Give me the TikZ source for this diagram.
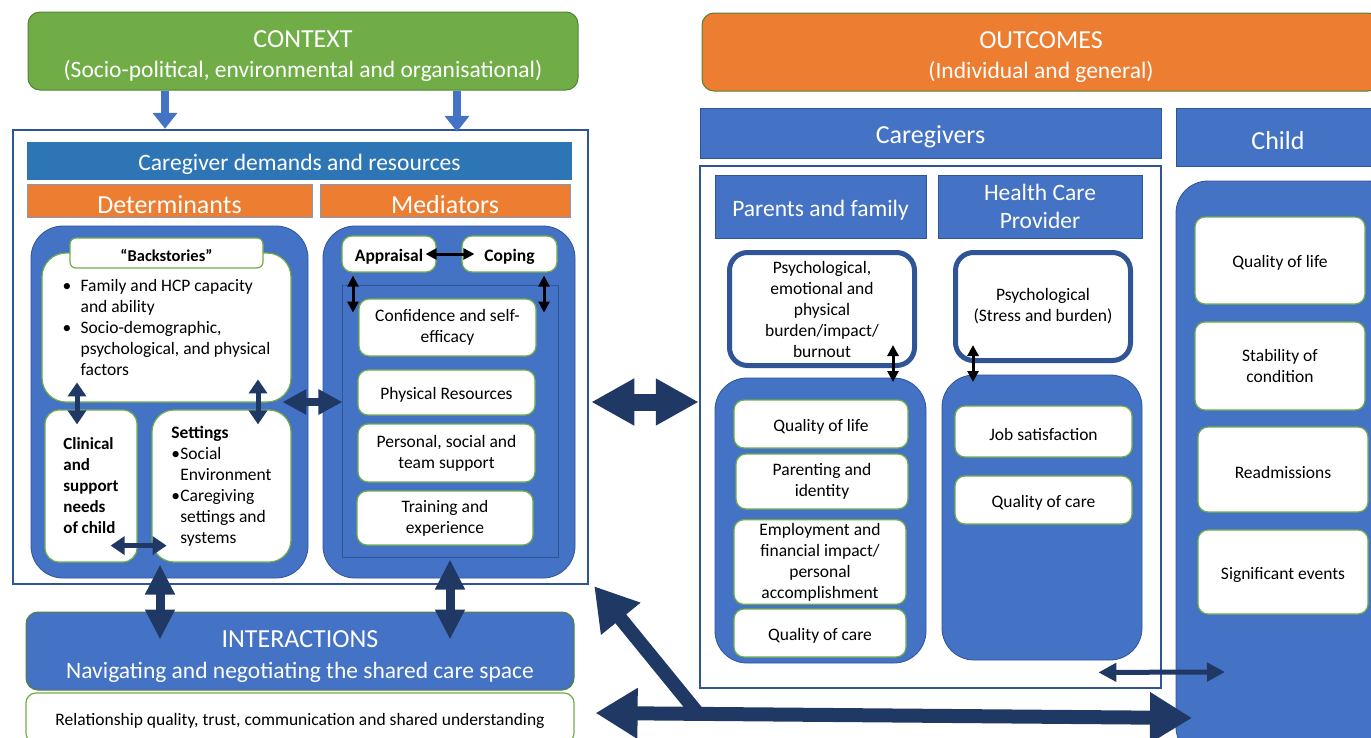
\documentclass[tikz,border=0pt]{standalone}
\usepackage{fontspec}
\setmainfont{Carlito}
\usetikzlibrary{arrows.meta,calc}
\definecolor{myblue}{HTML}{4472C4}
\definecolor{barblue}{HTML}{2E75B6}
\definecolor{edgeblue}{HTML}{2F5597}
\definecolor{arrowdark}{HTML}{203864}
\definecolor{itemgreen}{HTML}{70AD47}
\definecolor{ctxgreen}{HTML}{70AD47}
\definecolor{ctxedge}{HTML}{548235}
\definecolor{myorange}{HTML}{ED7D31}
\newcommand{\fs}[1]{\fontsize{#1}{21}\selectfont}
\newcommand{\bul}{\makebox[18pt][l]{\textbullet}}
\newcommand{\ind}{\hspace*{18pt}}
\newcommand{\caps}[1]{{\fontsize{26}{30}\selectfont\rule{0pt}{27.5pt}#1}}
\tikzset{
title/.style={text=white, align=center, font=\fontsize{23.5}{30}\selectfont,
  execute at begin node={\rule{0pt}{1em}}},% big headings, strut pushes text to the middle
bigbox/.style={title, rounded corners=12pt, draw=ctxedge, line width=1pt},
bar/.style={title, fill=myblue, draw=edgeblue, line width=0.8pt},
headbar/.style={title, fill=myorange, draw=edgeblue!60, line width=0.8pt, font=\fontsize{26}{26}\selectfont},
frame/.style={draw=edgeblue, line width=2.5pt, fill=white},
panel/.style={fill=myblue, draw=edgeblue, line width=0.8pt, rounded corners=32pt},
itembox/.style={fill=white, draw=itemgreen, line width=1.2pt, rounded corners=10pt, align=center, font=\fs{17.5},
  execute at begin node={\rule{0pt}{1em}}},
thickbox/.style={itembox, draw=edgeblue, line width=5pt, rounded corners=18pt},
% connectors
downarrow/.style={draw=myblue, line width=8pt, -{Triangle[length=16pt,width=24pt]}},
dblsmall/.style={draw=arrowdark, line width=5pt, {Triangle[length=14pt,width=18pt]}-{Triangle[length=14pt,width=18pt]}},
dblmid/.style={draw=arrowdark, line width=8pt, {Triangle[length=24pt,width=24pt]}-{Triangle[length=24pt,width=24pt]}},
dblbig/.style={draw=arrowdark, line width=9pt, {Triangle[length=30pt,width=28pt]}-{Triangle[length=30pt,width=28pt]}},
dblhuge/.style={draw=arrowdark, line width=17pt, {Triangle[length=43pt,width=44pt]}-{Triangle[length=43pt,width=44pt]}},
dblblack/.style={draw=black, line width=3pt, {Triangle[length=11pt,width=11pt]}-{Triangle[length=11pt,width=11pt]}},
}
\begin{document}
\begin{tikzpicture}[x=1pt,y=-1pt]
\useasboundingbox (0,0) rectangle (1371,737);

% left half: context and demands
\node[bigbox, fill=ctxgreen, minimum width=550pt, minimum height=78pt] (ctx) at (303,51) {\caps{CONTEXT}\\(Socio-political, environmental and organisational)};
\node[frame, minimum width=575pt, minimum height=454pt] (lframe) at (300.5,357) {};
\node[title, fill=barblue, minimum width=545pt, minimum height=38pt] (demres) at (299.5,161) {Caregiver demands and resources};
\node[headbar, minimum width=285pt, minimum height=28pt] (dets) at (169.5,201) {Determinants};
\node[headbar, minimum width=250pt, minimum height=28pt] (meds) at (445,201) {Mediators};

\node[panel, minimum width=277pt, minimum height=352pt] (detpanel) at (169.5,402) {};
\node[itembox, rounded corners=24pt, minimum width=249pt, minimum height=149pt, align=left] (back) at (166.5,327.5)
  {\bul Family and HCP capacity\\\ind and ability\\\bul Socio-demographic,\\\ind psychological, and physical\\\ind factors};
\node[itembox, rounded corners=6pt, minimum width=193pt, minimum height=30pt, font=\bfseries\fs{16.5}] (backhd) at (166.5,253) {“Backstories”};
\node[itembox, rounded corners=14pt, minimum width=92pt, minimum height=152pt, align=left, font=\bfseries\fs{17}] (clin) at (91,486) {Clinical\\and\\support\\needs\\of child};
\node[itembox, rounded corners=22pt, minimum width=139pt, minimum height=152pt, align=left] (sett) at (221.5,486)
  {\textbf{Settings}\\\makebox[9pt][l]{\textbullet}Social\\\hspace*{9pt}Environment\\\makebox[9pt][l]{\textbullet}Caregiving\\\hspace*{9pt}settings and\\\hspace*{9pt}systems};

\node[panel, minimum width=252pt, minimum height=352pt] (medpanel) at (449,402) {};
\node[fill=myblue, draw=edgeblue, line width=1pt, minimum width=216pt, minimum height=272pt] (medinner) at (450,421) {};
\node[itembox, minimum width=94pt, minimum height=36pt, font=\bfseries\fs{17.5}] (appr) at (389,254) {Appraisal};
\node[itembox, minimum width=95pt, minimum height=36pt, font=\bfseries\fs{17.5}] (cope) at (509.5,254) {Coping};
\node[itembox, minimum width=177pt, minimum height=57pt] (conf) at (447.5,327.5) {Confidence and self-\\efficacy};
\node[itembox, minimum width=177pt, minimum height=45pt] (phys) at (446.5,392.5) {Physical Resources};
\node[itembox, minimum width=177pt, minimum height=58pt] (pers) at (446.5,453) {Personal, social and\\team support};
\node[itembox, minimum width=176pt, minimum height=54pt] (train) at (445,518) {Training and\\experience};

\node[bigbox, fill=myblue, minimum width=548pt, minimum height=78pt, font=\fontsize{23.5}{31}\selectfont] (inter) at (300,651) {\caps{INTERACTIONS}\\Navigating and negotiating the shared care space};
\node[itembox, minimum width=548pt, minimum height=50pt] (rel) at (300,718) {Relationship quality, trust, communication and shared understanding};

% right half: outcomes
\node[bigbox, fill=myorange, minimum width=678pt, minimum height=78pt] (outc) at (1041,52) {\caps{OUTCOMES}\\(Individual and general)};
\node[bar, minimum width=461pt, minimum height=50pt, font=\fontsize{26}{30}\selectfont] (cgbar) at (930.5,133) {Caregivers};
\node[bar, minimum width=204pt, minimum height=58pt, font=\fontsize{26}{30}\selectfont] (childbar) at (1278,137) {Child};
\node[frame, minimum width=461pt, minimum height=522pt] (cgframe) at (930.5,427) {};
\node[bar, minimum width=211pt, minimum height=63pt, font=\fontsize{23.5}{28}\selectfont] (parbar) at (820.5,206.5) {Parents and family};
\node[bar, minimum width=204pt, minimum height=63pt, font=\fontsize{23.5}{28}\selectfont] (hcpbar) at (1040,206.5) {Health Care\\Provider};
\node[thickbox, minimum width=185pt, minimum height=113pt] (psy1) at (822,309) {Psychological,\\emotional and\\physical\\burden/impact/\\burnout};
\node[thickbox, minimum width=175pt, minimum height=108pt] (psy2) at (1043,306.5) {Psychological\\(Stress and burden)};

\node[panel, minimum width=211pt, minimum height=285pt] (parpanel) at (820.5,520.5) {};
\node[itembox, minimum width=174pt, minimum height=48pt] (pqol) at (821,424) {Quality of life};
\node[itembox, minimum width=172pt, minimum height=55pt] (ppar) at (822,481.5) {Parenting and\\identity};
\node[itembox, minimum width=172pt, minimum height=82pt] (pemp) at (820,562) {Employment and\\financial impact/\\personal\\accomplishment};
\node[itembox, minimum width=172pt, minimum height=48pt] (pqoc) at (820,633) {Quality of care};

\node[panel, minimum width=200pt, minimum height=285pt] (hcppanel) at (1042,517.5) {};
\node[itembox, minimum width=177pt, minimum height=51pt] (hjob) at (1043.5,431.5) {Job satisfaction};
\node[itembox, minimum width=177pt, minimum height=48pt] (hqoc) at (1043.5,500) {Quality of care};

\node[panel, minimum width=224pt, minimum height=578pt] (childpanel) at (1288,470) {};
\node[itembox, minimum width=170pt, minimum height=87pt] (cqol) at (1280,260.5) {Quality of life};
\node[itembox, minimum width=170pt, minimum height=88pt] (cstab) at (1280,366) {Stability of\\condition};
\node[itembox, minimum width=170pt, minimum height=85pt] (cread) at (1283,469.5) {Readmissions};
\node[itembox, minimum width=170pt, minimum height=84pt] (csig) at (1283,572) {Significant events};

% connectors
\draw[downarrow] (ctx.south -| 165,0) -- (lframe.north -| 165,0);
\draw[downarrow] (ctx.south -| 457,0) -- ([yshift=-3pt]lframe.north -| 457,0);

\draw[dblsmall] ([xshift=-14pt,yshift=27pt]clin.north) -- ([xshift=-14pt,yshift=-15pt]clin.north);
\draw[dblsmall] ([xshift=36.5pt,yshift=30pt]sett.north) -- ([xshift=36.5pt,yshift=-15pt]sett.north);
\draw[dblsmall] ([xshift=-27pt,yshift=17pt]clin.south east) -- ([xshift=29pt,yshift=17pt]clin.south east);
\draw[dblmid] ([xshift=-26pt]detpanel.east) -- ([xshift=34pt]detpanel.east);

\draw[dblblack] ([xshift=-11pt]appr.east) -- ([xshift=13pt]cope.west);
\draw[dblblack] ([xshift=-36pt,yshift=-3pt]appr.south) -- ([xshift=-36pt,yshift=-40pt]appr.south);
\draw[dblblack] ([xshift=34.5pt,yshift=-3pt]cope.south) -- ([xshift=34.5pt,yshift=-40pt]cope.south);

\draw[dblbig] ([xshift=-140pt,yshift=47pt]inter.north) -- ([xshift=-140pt,yshift=-28pt]inter.north);
\draw[dblbig] ([xshift=150pt,yshift=52pt]inter.north) -- ([xshift=150pt,yshift=-28pt]inter.north);

\draw[dblhuge] ([xshift=2pt]lframe.east |- medpanel.east) -- (cgframe.west |- medpanel.east);

\draw[dblblack] ([xshift=-24pt,yshift=23pt]psy1.south east) -- ([xshift=-24pt,yshift=-14pt]psy1.south east);
\draw[dblblack] ([xshift=20pt,yshift=18pt]psy2.south west) -- ([xshift=20pt,yshift=-19pt]psy2.south west);

\coordinate (ctip) at (1225,672);
\draw[draw=arrowdark, line width=5pt, {Triangle[length=18pt,width=18pt]}-{Triangle[length=18pt,width=18pt]}]
  ([xshift=-44pt,yshift=-12pt]hcppanel.south east) -- (ctip);

% three-headed arrow at the bottom
\coordinate (jn) at (700,716);
\coordinate (rtip) at (1192,718);
\draw[draw=arrowdark, line width=14pt, {Triangle[length=42pt,width=48pt]}-] ([xshift=5pt,yshift=-1pt]lframe.south east) -- (jn);
\draw[draw=arrowdark, line width=14pt, {Triangle[length=42pt,width=48pt]}-{Triangle[length=42pt,width=48pt]}] ([xshift=21pt,yshift=5pt]rel.east) -- (rtip);
\end{tikzpicture}
\end{document}
